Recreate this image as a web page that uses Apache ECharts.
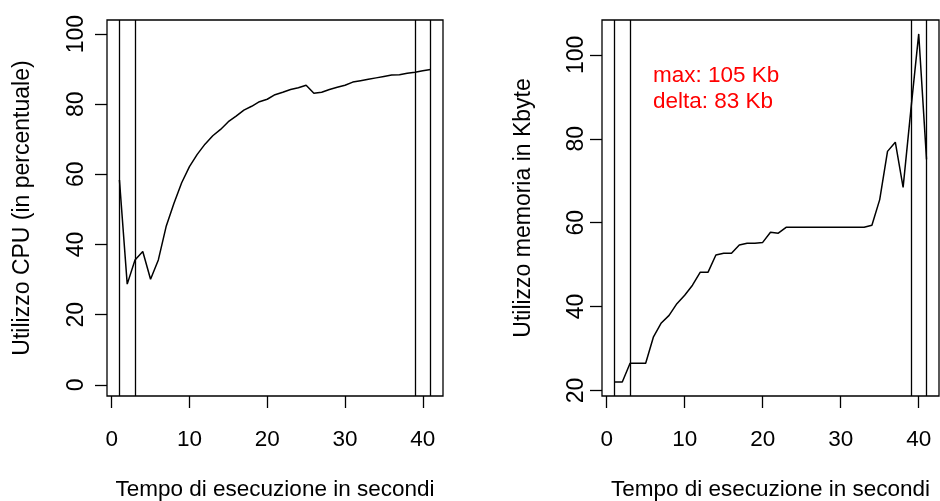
<!DOCTYPE html>
<html lang="it">
<head>
    <meta charset="UTF-8">
    <title>CPU e memoria</title>
    <style>
        html, body { margin: 0; padding: 0; background: #fff; }
        #main { width: 940px; height: 501px; }
    </style>
</head>
<body>
<div id="main"></div>
<script src="https://cdn.jsdelivr.net/npm/echarts@6/dist/echarts.min.js"></script>
<script>
    // secondi (asse x)
    var secondi = [];
    for (var s = 1; s <= 41; s++) secondi.push(s);

    // utilizzo CPU in percentuale
    var cpu = [58.4, 28.7, 35.6, 38.0, 30.1, 35.6, 45.1, 51.7, 57.6, 62.2,
               65.7, 68.6, 71.0, 72.8, 75.0, 76.6, 78.3, 79.4, 80.7, 81.4,
               82.7, 83.4, 84.2, 84.7, 85.4, 83.1, 83.4, 84.2, 84.8, 85.4,
               86.3, 86.7, 87.1, 87.5, 87.9, 88.3, 88.4, 88.8, 89.1, 89.5, 89.9];

    // memoria in Kbyte
    var memoria = [22, 22, 26.5, 26.5, 26.5, 32.8, 36.1, 37.9, 40.7, 42.7,
                   45.1, 48.2, 48.2, 52.3, 52.7, 52.7, 54.7, 55.1, 55.1, 55.3,
                   57.7, 57.5, 58.9, 58.9, 58.9, 58.9, 58.9, 58.9, 58.9, 58.9,
                   58.9, 58.9, 58.9, 59.4, 65.5, 77.0, 79.2, 68.4, 87.0, 105.0, 75.1];

    // linee verticali
    var lineeX = [1, 3, 39, 41];

    var tickX = [0, 10, 20, 30, 40];
    var tickCpu = [0, 20, 40, 60, 80, 100];
    var tickMem = [20, 40, 60, 80, 100];

    var noteMem = ['max: 105 Kb', 'delta: 83 Kb'];

    function coppie(xs, ys) {
        var res = [];
        for (var i = 0; i < xs.length; i++) res.push([xs[i], ys[i]]);
        return res;
    }

    var font = 'Liberation Sans, Arial, sans-serif';
    var fsX = 22.5;   // testi orizzontali
    var fsY = 23;     // testi ruotati

    function asseX(idx) {
        return {
            type: 'value', gridIndex: idx,
            min: -0.6, max: 42.6,
            name: 'Tempo di esecuzione in secondi',
            nameLocation: 'middle', nameGap: 82,
            nameTextStyle: {color: '#000', fontSize: fsX, fontFamily: font},
            axisLine: {show: false, onZero: false},
            axisTick: {show: true, inside: false, length: 12, customValues: tickX, lineStyle: {color: '#000', width: 1.3}},
            axisLabel: {customValues: tickX, margin: 32, color: '#000', fontSize: fsX, fontFamily: font},
            splitLine: {show: false}
        };
    }

    function asseY(idx, min, max, ticks, nome, marg, gap) {
        return {
            type: 'value', gridIndex: idx,
            min: min, max: max,
            name: nome,
            nameLocation: 'middle', nameGap: gap,
            nameTextStyle: {color: '#000', fontSize: fsY, fontFamily: font},
            axisLine: {show: false, onZero: false},
            axisTick: {show: true, inside: false, length: 12, customValues: ticks, lineStyle: {color: '#000', width: 1.3}},
            axisLabel: {customValues: ticks, rotate: 90, margin: marg, color: '#000', fontSize: fsY, fontFamily: font},
            splitLine: {show: false}
        };
    }

    function serie(idx, dati) {
        return {
            type: 'line', xAxisIndex: idx, yAxisIndex: idx,
            data: coppie(secondi, dati),
            showSymbol: false, symbol: 'none',
            lineStyle: {color: '#000', width: 1.5},
            markLine: {
                silent: true, symbol: 'none', animation: false,
                label: {show: false},
                lineStyle: {color: '#000', type: 'solid', width: 1.3},
                data: lineeX.map(function (v) { return {xAxis: v}; })
            }
        };
    }

    var myChart = echarts.init(document.getElementById('main'));
    var option = {
        backgroundColor: '#fff',
        animation: false,
        grid: [
            {left: 107, top: 20, width: 336, height: 376, outerBoundsMode: 'none', containLabel: false,
             show: true, borderColor: '#000', borderWidth: 1.3, backgroundColor: 'transparent'},
            {left: 602, top: 20, width: 337, height: 376, outerBoundsMode: 'none', containLabel: false,
             show: true, borderColor: '#000', borderWidth: 1.3, backgroundColor: 'transparent'}
        ],
        xAxis: [asseX(0), asseX(1)],
        yAxis: [
            asseY(0, -3.2, 104, tickCpu, 'Utilizzo CPU (in percentuale)', 19, 73),
            asseY(1, 18.68, 108.32, tickMem, 'Utilizzo memoria in Kbyte', 14, 67)
        ],
        graphic: noteMem.map(function (t, i) {
            return {
                type: 'text', left: 653, top: 64 + i * 26,
                style: {text: t, fill: '#ff0000', fontSize: fsX, fontFamily: font}
            };
        }),
        series: [serie(0, cpu), serie(1, memoria)]
    };
    myChart.setOption(option);
</script>
</body>
</html>
